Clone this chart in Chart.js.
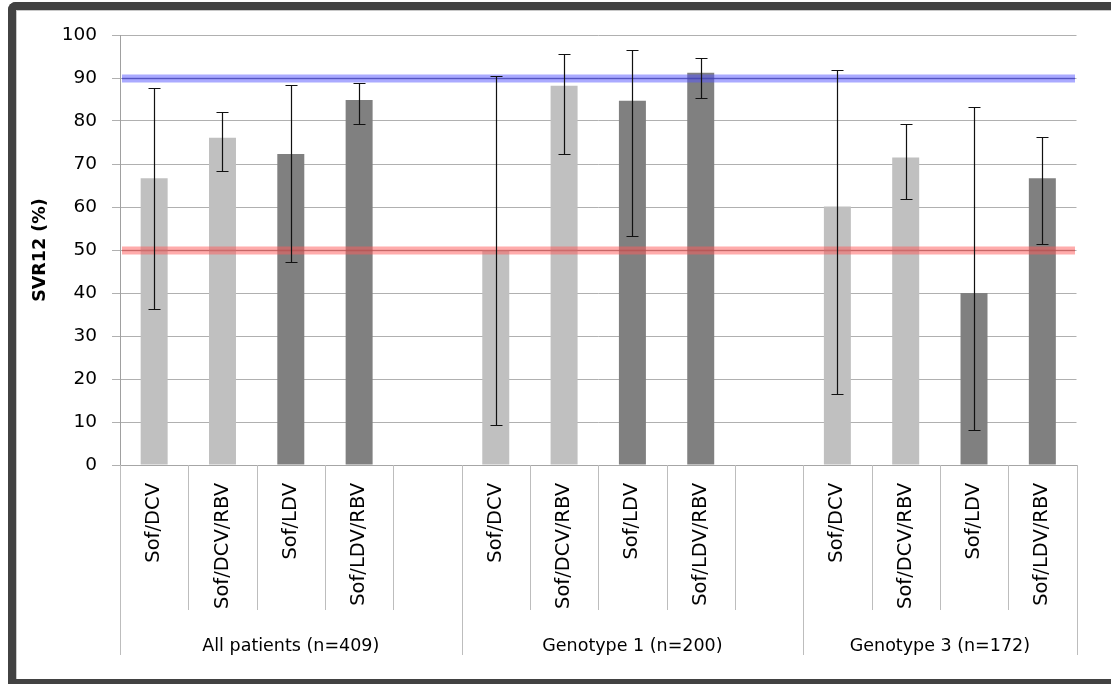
<!DOCTYPE html>
<html><head><meta charset="utf-8">
<script src="https://cdn.jsdelivr.net/npm/chart.js@4"></script>
<style>
html,body{margin:0;padding:0;background:#fff;overflow:hidden;}
#wrap{position:relative;width:1111px;height:684px;overflow:hidden;}
#c{position:absolute;left:0;top:0;}
#frame{position:absolute;left:8px;top:2px;width:1200px;height:682px;border-left:8px solid #424242;border-top:8px solid #424242;border-bottom:5px solid #424242;border-right:0;border-top-left-radius:8px;box-sizing:border-box;pointer-events:none;box-shadow:inset 1px 1px 0 #c8c8c8;}
</style></head>
<body>
<div id="wrap"><canvas id="c" width="1111" height="684"></canvas><div id="frame"></div></div>
<script>
// ---- data ----
const categories = ['Sof/DCV','Sof/DCV/RBV','Sof/LDV','Sof/LDV/RBV','',
                    'Sof/DCV','Sof/DCV/RBV','Sof/LDV','Sof/LDV/RBV','',
                    'Sof/DCV','Sof/DCV/RBV','Sof/LDV','Sof/LDV/RBV'];
const groupLabels = ['All patients (n=409)','Genotype 1 (n=200)','Genotype 3 (n=172)'];
const groupSizes = [5,5,4];
const svr     = [66.7,76.1,72.3,84.9,null, 50.0,88.2,84.7,91.2,null, 60.1,71.5,40.0,66.7];
const errLow  = [36.3,68.4,47.3,79.4,null,  9.3,72.3,53.3,85.3,null, 16.4,61.8, 8.1,51.4];
const errHigh = [87.6,82.2,88.4,88.8,null, 90.5,95.6,96.4,94.7,null, 91.8,79.2,83.2,76.3];
const refLines = [90, 50];
const yTicks = {min:0, max:100, step:10};
const yTitle = 'SVR12 (%)';

const FONT = 'DejaVu Sans';
const LIGHT = '#c0c0c0', DARK = '#808080';

const overlay = {
  id:'overlay',
  afterDatasetsDraw(chart){
    const {ctx, chartArea:a, scales:{x, y}} = chart;
    const refStyles = [
      {band:'rgba(85,85,255,0.5)', line:'rgba(40,40,170,0.5)'},
      {band:'rgba(255,90,90,0.5)', line:'rgba(170,50,50,0.35)'}
    ];
    ctx.save();
    refLines.forEach((v, k) => {
      const py = y.getPixelForValue(v);
      const st = refStyles[k];
      ctx.fillStyle = st.band;
      ctx.fillRect(a.left + 2, py - 3.5, a.right - a.left - 3.5, 8);
      ctx.strokeStyle = st.line;
      ctx.lineWidth = 1.5;
      ctx.beginPath(); ctx.moveTo(a.left + 2, py + 0.5); ctx.lineTo(a.right - 1.5, py + 0.5); ctx.stroke();
    });
    const meta = chart.getDatasetMeta(0);
    ctx.strokeStyle = '#111';
    ctx.lineWidth = 1.2;
    svr.forEach((v, i) => {
      if (v == null) return;
      const bx = Math.round(meta.data[i].x) + 0.5;
      const yl = Math.round(y.getPixelForValue(errLow[i])) + 0.5;
      const yh = Math.round(y.getPixelForValue(errHigh[i])) + 0.5;
      ctx.beginPath();
      ctx.moveTo(bx, yl); ctx.lineTo(bx, yh);
      ctx.moveTo(bx - 6, yl); ctx.lineTo(bx + 6, yl);
      ctx.moveTo(bx - 6, yh); ctx.lineTo(bx + 6, yh);
      ctx.stroke();
    });
    ctx.restore();
  },
  afterDraw(chart){
    const {ctx, chartArea:a} = chart;
    const n = categories.length;
    const w = (a.right - a.left) / n;
    const longIdx = [0];
    let acc = 0;
    groupSizes.forEach(s => { acc += s; longIdx.push(acc); });
    ctx.save();
    ctx.strokeStyle = '#bdbdbd';
    ctx.lineWidth = 1;
    for (let k = 0; k <= n; k++) {
      const px = Math.round(a.left + k * w) + 0.5;
      const isLong = longIdx.includes(k);
      ctx.beginPath();
      ctx.moveTo(px, a.bottom);
      ctx.lineTo(px, isLong ? a.bottom + 190 : a.bottom + 145);
      ctx.stroke();
    }
    ctx.fillStyle = '#000';
    ctx.font = '17.5px "' + FONT + '"';
    ctx.textAlign = 'center';
    ctx.textBaseline = 'middle';
    let start = 0;
    groupSizes.forEach((s, g) => {
      const cx = a.left + (start + s / 2) * w;
      ctx.fillText(groupLabels[g], cx, a.bottom + 181);
      start += s;
    });
    ctx.restore();
  }
};

new Chart(document.getElementById('c'), {
  type:'bar',
  data:{
    labels: categories,
    datasets:[{
      data: svr,
      backgroundColor: categories.map(c => c.includes('DCV') ? LIGHT : DARK),
      borderWidth: 0,
      barPercentage: 0.395,
      categoryPercentage: 1
    }]
  },
  options:{
    responsive:false,
    animation:false,
    devicePixelRatio:1,
    layout:{padding:{left:0, right:34.5, top:35, bottom:0}},
    plugins:{legend:{display:false}, tooltip:{enabled:false}},
    scales:{
      x:{
        grid:{display:false, drawTicks:false},
        border:{display:true, color:'#a6a6a6'},
        ticks:{autoSkip:false, minRotation:90, maxRotation:90, padding:18, color:'#000', font:{family:FONT, size:19.5}},
        afterFit(s){ s.height = 219; }
      },
      y:{
        min:yTicks.min, max:yTicks.max,
        ticks:{stepSize:yTicks.step, padding:15, color:'#000', font:{family:FONT, size:18.5}},
        grid:{color:'#b0b0b0', tickLength:8, lineWidth:1},
        border:{color:'#a0a0a0'},
        title:{display:true, text:yTitle, color:'#000', font:{family:FONT, size:17.5, weight:'bold'}, padding:{top:30, bottom:0}},
        afterFit(s){ s.width = 120; }
      }
    }
  },
  plugins:[overlay]
});
</script>
</body></html>
